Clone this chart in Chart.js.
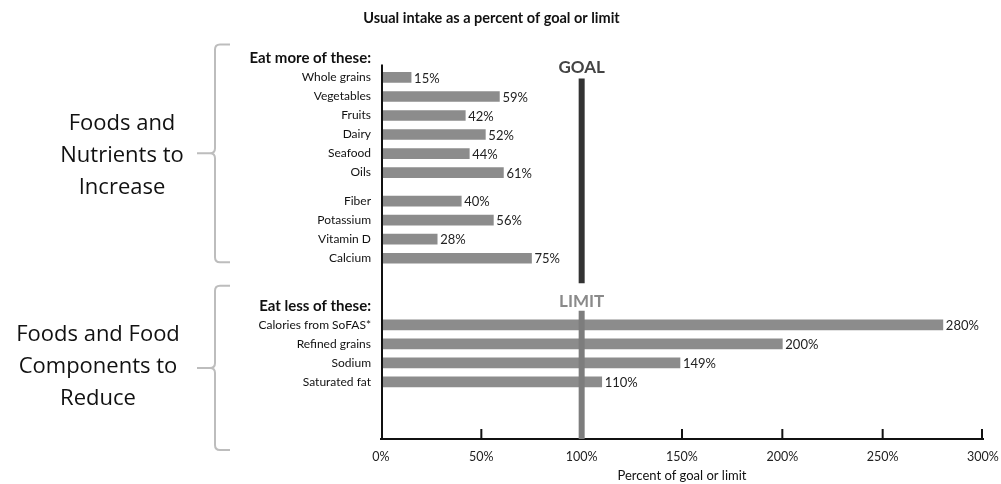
<!DOCTYPE html>
<html>
<head>
<meta charset="utf-8">
<script src="https://cdn.jsdelivr.net/npm/chart.js@4.4.0/dist/chart.umd.min.js"></script>
<style>
  html, body { margin: 0; padding: 0; background: #fff; }
  #wrap { width: 1001px; height: 484px; position: relative; }
</style>
</head>
<body>
<div id="wrap"><canvas id="intakeChart"></canvas></div>
<script>
// data
const moreLabels = ['Whole grains', 'Vegetables', 'Fruits', 'Dairy', 'Seafood', 'Oils'];
const moreValues = [15, 59, 42, 52, 44, 61];
const nutrientLabels = ['Fiber', 'Potassium', 'Vitamin D', 'Calcium'];
const nutrientValues = [40, 56, 28, 75];
const lessLabels = ['Calories from SoFAS*', 'Refined grains', 'Sodium', 'Saturated fat'];
const lessValues = [280, 200, 149, 110];
const xTickValues = [0, 50, 100, 150, 200, 250, 300];
const goalValue = 100;

const FONT = 'Lato, "Open Sans", sans-serif';

// category slots are half a row high: every row takes two slots,
// extra blank slots make the gaps between groups
const rows = [];
const blank = n => { for (let i = 0; i < n; i++) rows.push({ label: '', value: null, kind: 'gap' }); };
const addRow = (label, value, kind) => { rows.push({ label: label, value: value, kind: kind }); blank(1); };
addRow('Eat more of these:', null, 'head');
moreLabels.forEach((l, i) => addRow(l, moreValues[i], 'item'));
blank(1);
nutrientLabels.forEach((l, i) => addRow(l, nutrientValues[i], 'item'));
blank(3);
addRow('Eat less of these:', null, 'head');
lessLabels.forEach((l, i) => addRow(l, lessValues[i], 'item'));
blank(5);

const headIdx = rows.map((r, i) => r.kind === 'head' ? i : -1).filter(i => i >= 0);
const rowIdx = name => rows.findIndex(r => r.label === name);

function drawBrace(ctx, top, bottom, mid) {
    const xv = 215, xr = 230, xt = 197, r = 5;
    ctx.save();
    ctx.strokeStyle = '#bdbdbd';
    ctx.lineWidth = 2;
    ctx.beginPath();
    ctx.moveTo(xr, top);
    ctx.lineTo(xv + r, top);
    ctx.quadraticCurveTo(xv, top, xv, top + r);
    ctx.lineTo(xv, mid - r);
    ctx.quadraticCurveTo(xv, mid, xv - r, mid);
    ctx.lineTo(xt, mid);
    ctx.moveTo(xv - r, mid);
    ctx.quadraticCurveTo(xv, mid, xv, mid + r);
    ctx.lineTo(xv, bottom - r);
    ctx.quadraticCurveTo(xv, bottom, xv + r, bottom);
    ctx.lineTo(xr, bottom);
    ctx.stroke();
    ctx.restore();
}

function drawBlockText(ctx, lines, cx, cy) {
    ctx.save();
    ctx.font = '22px "Open Sans", sans-serif';
    ctx.fillStyle = '#111';
    ctx.textAlign = 'center';
    ctx.textBaseline = 'alphabetic';
    lines.forEach((t, i) => ctx.fillText(t, cx, cy + 8 + (i - 1) * 32));
    ctx.restore();
}

const overlay = {
    id: 'overlay',
    afterDatasetsDraw(chart) {
        const { ctx, chartArea, scales: { x, y } } = chart;
        const yp = i => y.getPixelForValue(i);
        const gx = x.getPixelForValue(goalValue);

        // value labels
        const meta = chart.getDatasetMeta(0);
        ctx.save();
        ctx.font = '13px ' + FONT;
        ctx.fillStyle = '#222';
        ctx.textBaseline = 'middle';
        meta.data.forEach((bar, i) => {
            const v = rows[i].value;
            if (v === null) return;
            ctx.fillText(v + '%', bar.x + 3, bar.y + 1);
        });
        ctx.restore();

        // y axis line
        ctx.save();
        ctx.strokeStyle = '#111';
        ctx.lineWidth = 2;
        ctx.beginPath();
        ctx.moveTo(chartArea.left + 1, yp(headIdx[0]) + 6);
        ctx.lineTo(chartArea.left + 1, chartArea.bottom);
        ctx.stroke();
        // x tick marks pointing up
        xTickValues.forEach(v => {
            const px = Math.min(Math.max(x.getPixelForValue(v), chartArea.left + 1), chartArea.right - 1);
            ctx.beginPath();
            ctx.moveTo(px, chartArea.bottom);
            ctx.lineTo(px, chartArea.bottom - 10);
            ctx.stroke();
        });
        ctx.restore();

        // goal and limit markers
        const lastMore = rowIdx(nutrientLabels[nutrientLabels.length - 1]);
        ctx.save();
        ctx.lineWidth = 6;
        ctx.strokeStyle = '#333';
        ctx.beginPath();
        ctx.moveTo(gx, yp(rowIdx(moreLabels[0])) + 1);
        ctx.lineTo(gx, yp(lastMore) + 25);
        ctx.stroke();
        ctx.strokeStyle = '#7d7d7d';
        ctx.beginPath();
        ctx.moveTo(gx, yp(headIdx[1]) + 5);
        ctx.lineTo(gx, chartArea.bottom);
        ctx.stroke();
        ctx.font = 'bold 17px ' + FONT;
        ctx.textAlign = 'center';
        ctx.textBaseline = 'middle';
        ctx.fillStyle = '#444';
        ctx.fillText('GOAL', gx, yp(headIdx[0]) + 9);
        ctx.fillStyle = '#8a8a8a';
        ctx.fillText('LIMIT', gx, yp(headIdx[1]) - 4);
        ctx.restore();

        // group braces and captions
        const t1 = yp(headIdx[0]) - 14, b1 = yp(lastMore) + 4;
        drawBrace(ctx, t1, b1, (t1 + b1) / 2);
        drawBlockText(ctx, ['Foods and', 'Nutrients to', 'Increase'], 122, (t1 + b1) / 2 + 1);
        const t2 = yp(headIdx[1]) - 20, b2 = chartArea.bottom + 11;
        drawBrace(ctx, t2, b2, (t2 + b2) / 2);
        drawBlockText(ctx, ['Foods and Food', 'Components to', 'Reduce'], 98, (t2 + b2) / 2 - 3);
    }
};

const ctxIntake = document.getElementById('intakeChart').getContext('2d');
new Chart(ctxIntake, {
    type: 'bar',
    data: {
        labels: rows.map(r => r.label),
        datasets: [{
            label: 'Usual intake',
            data: rows.map(r => r.value),
            backgroundColor: '#8c8c8c',
            barThickness: 10
        }]
    },
    options: {
        indexAxis: 'y',
        responsive: true,
        maintainAspectRatio: false,
        animation: false,
        layout: { padding: { left: 0, right: 18, top: 0, bottom: 0 } },
        plugins: {
            legend: { display: false },
            tooltip: { enabled: false },
            title: {
                display: true,
                text: 'Usual intake as a percent of goal or limit',
                color: '#111',
                font: { family: FONT, size: 14.5, weight: 'bold' },
                padding: { top: 10, bottom: 31 }
            }
        },
        scales: {
            x: {
                min: 0,
                max: 300,
                afterBuildTicks: scale => { scale.ticks = xTickValues.map(v => ({ value: v })); },
                ticks: {
                    callback: v => v + '%',
                    color: '#222',
                    padding: 10,
                    maxRotation: 0,
                    font: { family: FONT, size: 12.5 }
                },
                grid: { display: false, drawTicks: false },
                border: { display: true, color: '#111', width: 2 },
                title: {
                    display: true,
                    text: 'Percent of goal or limit',
                    color: '#111',
                    font: { family: FONT, size: 13 },
                    padding: { top: 0, bottom: 0 }
                },
                afterFit: scale => {
                    scale.height = 45;
                    scale.paddingRight = 0;
                    scale.paddingLeft = 0;
                }
            },
            y: {
                offset: false,
                grid: { display: false, drawTicks: false },
                border: { display: false },
                ticks: {
                    autoSkip: false,
                    padding: 10,
                    color: '#111',
                    font: ctx => rows[ctx.index] && rows[ctx.index].kind === 'head'
                        ? { family: FONT, size: 15, weight: 'bold' }
                        : { family: FONT, size: 12 }
                },
                afterFit: scale => { scale.width = 381; }
            }
        }
    },
    plugins: [overlay]
});
</script>
</body>
</html>
